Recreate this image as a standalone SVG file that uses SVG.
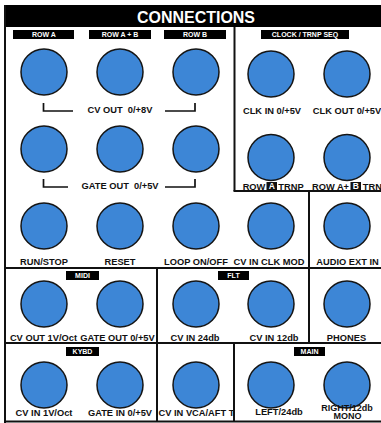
<svg xmlns="http://www.w3.org/2000/svg" width="381" height="423" viewBox="0 0 381 423">
<style>
.j{fill:#3d86d6;stroke:#151515;stroke-width:1.5}
.ln{stroke:#111;stroke-width:2;fill:none}
.br{stroke:#111;stroke-width:1.7;fill:none}
.t{font-family:"Liberation Sans",Arial,sans-serif;font-weight:bold;font-size:9.3px;fill:#111;text-anchor:middle}
.hb{fill:#000}
.ht{font-family:"Liberation Sans",Arial,sans-serif;font-weight:bold;font-size:7px;fill:#fff;text-anchor:middle}
.w{font-family:"Liberation Sans",Arial,sans-serif;font-weight:bold;font-size:8.5px;fill:#fff;text-anchor:middle}
</style>
<rect x="0" y="0" width="381" height="423" fill="#fff"/>
<g id="frame">
<rect x="4" y="5" width="380" height="22" fill="#000"/>
<text x="196" y="22.7" font-family="Liberation Sans,Arial,sans-serif" font-weight="bold" font-size="17" fill="#fff" text-anchor="middle" textLength="118" lengthAdjust="spacingAndGlyphs">CONNECTIONS</text>
<line class="ln" x1="5" y1="5" x2="5" y2="423"/>
<line class="ln" x1="4" y1="421.5" x2="381" y2="421.5"/>
<line class="ln" x1="234.5" y1="27" x2="234.5" y2="191"/>
<line class="ln" x1="233.5" y1="191" x2="381" y2="191"/>
<line class="ln" x1="309" y1="191" x2="309" y2="343"/>
<line class="ln" x1="4" y1="268" x2="381" y2="268"/>
<line class="ln" x1="157" y1="268" x2="157" y2="421"/>
<line class="ln" x1="4" y1="343" x2="381" y2="343"/>
<line class="ln" x1="234" y1="343" x2="234" y2="421"/>
</g>
<g id="headers">
<rect class="hb" x="13" y="30" width="61" height="9"/><text class="ht" x="44" y="37.3">ROW A</text>
<rect class="hb" x="89" y="30" width="62" height="9"/><text class="ht" x="120" y="37.3">ROW A + B</text>
<rect class="hb" x="164" y="30" width="62" height="9"/><text class="ht" x="195" y="37.3">ROW B</text>
<rect class="hb" x="261" y="30" width="88" height="9"/><text class="ht" x="305" y="37.3">CLOCK / TRNP SEQ</text>
<rect class="hb" x="66" y="271" width="33" height="9"/><text class="ht" x="82.5" y="278.3">MIDI</text>
<rect class="hb" x="218" y="271" width="31" height="9"/><text class="ht" x="233.5" y="278.3">FLT</text>
<rect class="hb" x="66" y="347" width="33" height="9"/><text class="ht" x="82.5" y="354.3">KYBD</text>
<rect class="hb" x="294" y="347" width="31" height="9"/><text class="ht" x="309.5" y="354.3">MAIN</text>
</g>
<g id="brackets">
<path class="br" d="M43.5 103 V111 H73 M165 111 H195 V103"/>
<text class="t" x="120" y="113.3" xml:space="preserve">CV OUT  0/+8V</text>
<path class="br" d="M43.5 179 V187 H68 M165 187 H195 V179"/>
<text class="t" x="120" y="189.3" xml:space="preserve">GATE OUT  0/+5V</text>
</g>
<g id="cv-out-a"><circle class="j" cx="44" cy="72" r="23"/></g>
<g id="cv-out-ab"><circle class="j" cx="120" cy="72" r="23"/></g>
<g id="cv-out-b"><circle class="j" cx="196" cy="72" r="23"/></g>
<g id="gate-out-a"><circle class="j" cx="44" cy="149" r="23"/></g>
<g id="gate-out-ab"><circle class="j" cx="120" cy="149" r="23"/></g>
<g id="gate-out-b"><circle class="j" cx="196" cy="149" r="23"/></g>
<g id="clk-in"><circle class="j" cx="271" cy="74" r="23"/><text class="t" x="272" y="114">CLK IN 0/+5V</text></g>
<g id="clk-out"><circle class="j" cx="347" cy="74" r="23"/><text class="t" x="347" y="114">CLK OUT 0/+5V</text></g>
<g id="row-a-trnp"><circle class="j" cx="271" cy="157.5" r="23"/>
<text class="t" x="254" y="189.5">ROW</text><rect x="266.5" y="182" width="10.5" height="8.5" fill="#111"/><text class="w" x="271.8" y="189.3">A</text><text class="t" x="291" y="189.5">TRNP</text></g>
<g id="row-ab-trnp"><circle class="j" cx="347" cy="157.5" r="23"/>
<text class="t" x="330.5" y="189.5">ROW A+</text><rect x="350.5" y="182" width="10.5" height="8.5" fill="#111"/><text class="w" x="355.8" y="189.3">B</text><text class="t" x="375.5" y="189.5">TRNP</text></g>
<g id="run-stop"><circle class="j" cx="44" cy="226" r="23"/><text class="t" x="44" y="265">RUN/STOP</text></g>
<g id="reset"><circle class="j" cx="120" cy="226" r="23"/><text class="t" x="120" y="265">RESET</text></g>
<g id="loop"><circle class="j" cx="196" cy="226" r="23"/><text class="t" x="196" y="265">LOOP ON/OFF</text></g>
<g id="cv-in-clk-mod"><circle class="j" cx="271" cy="226" r="23"/><text class="t" x="269" y="265">CV IN CLK MOD</text></g>
<g id="audio-ext-in"><circle class="j" cx="347" cy="226" r="23"/><text class="t" x="347.5" y="265">AUDIO EXT IN</text></g>
<g id="midi-cv-out"><circle class="j" cx="44" cy="304" r="23"/><text class="t" x="43.5" y="341">CV OUT 1V/Oct</text></g>
<g id="midi-gate-out"><circle class="j" cx="120" cy="304" r="23"/><text class="t" x="117.5" y="341">GATE OUT 0/+5V</text></g>
<g id="flt-24"><circle class="j" cx="196" cy="304" r="23"/><text class="t" x="195" y="341">CV IN 24db</text></g>
<g id="flt-12"><circle class="j" cx="271" cy="304" r="23"/><text class="t" x="274" y="341">CV IN 12db</text></g>
<g id="phones"><circle class="j" cx="347" cy="304" r="23"/><text class="t" x="346.5" y="341">PHONES</text></g>
<g id="kybd-cv-in"><circle class="j" cx="44" cy="385" r="23"/><text class="t" x="44" y="416">CV IN 1V/Oct</text></g>
<g id="kybd-gate-in"><circle class="j" cx="120" cy="385" r="23"/><text class="t" x="120" y="416">GATE IN 0/+5V</text></g>
<g id="cv-in-vca"><circle class="j" cx="196" cy="385" r="23"/><text class="t" x="196.5" y="416">CV IN VCA/AFT T</text></g>
<g id="main-left"><circle class="j" cx="271" cy="385" r="23"/><text class="t" x="279" y="415">LEFT/24db</text></g>
<g id="main-right"><circle class="j" cx="347" cy="385" r="23"/><text class="t" x="347" y="410.5" style="font-size:9px">RIGHT/12db</text><text class="t" x="347.5" y="419" style="font-size:9px">MONO</text></g>
</svg>
